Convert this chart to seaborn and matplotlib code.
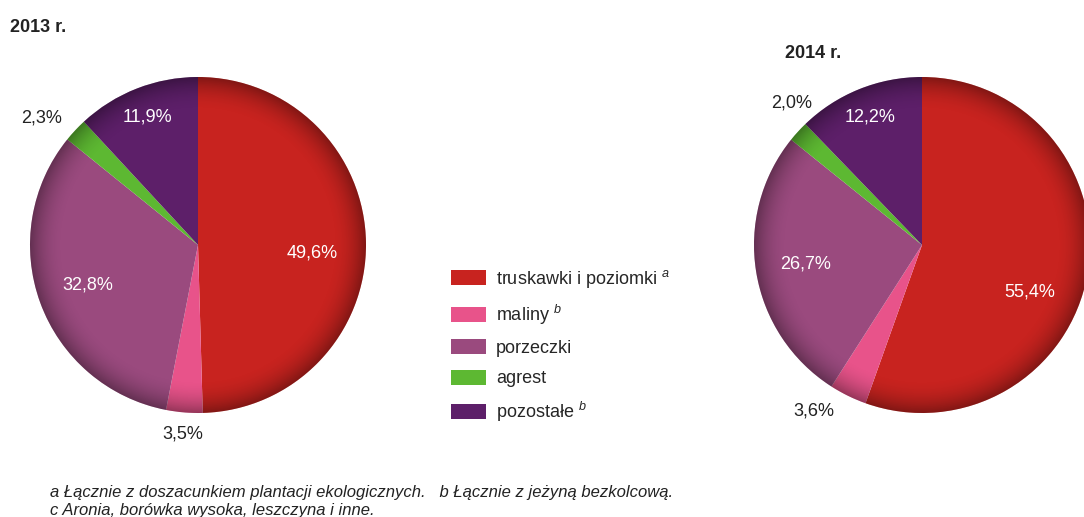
import numpy as np
import matplotlib
matplotlib.use("Agg")
import matplotlib.pyplot as plt
from matplotlib.patches import Patch, Circle
import seaborn as sns

# dane
kategorie = ["truskawki i poziomki", "maliny", "porzeczki", "agrest", "pozostałe"]
etykiety_legendy = [
    r"truskawki i poziomki $^{a}$",
    r"maliny $^{b}$",
    "porzeczki",
    "agrest",
    r"pozostałe $^{b}$",
]
udzialy_2013 = [49.6, 3.5, 32.8, 2.3, 11.9]
udzialy_2014 = [55.4, 3.6, 26.7, 2.0, 12.2]
lata = ["2013 r.", "2014 r."]
przypisy = [
    "a Łącznie z doszacunkiem plantacji ekologicznych.   b Łącznie z jeżyną bezkolcową.",
    "c Aronia, borówka wysoka, leszczyna i inne.",
]

sns.set_theme(style="white")
plt.rcParams["font.family"] = ["Liberation Sans", "DejaVu Sans"]
plt.rcParams["mathtext.fontset"] = "custom"
plt.rcParams["mathtext.it"] = "Liberation Sans:italic"
plt.rcParams["mathtext.rm"] = "Liberation Sans"

kolory = sns.color_palette(["#c8231f", "#e8538a", "#9a4a7e", "#5db832", "#5d1f69"])

# odleglosc etykiety od srodka i kolor tekstu dla kazdego wycinka
odl_etykiet = [0.68, 1.13, 0.70, 1.20, 0.82]
kolor_tekstu = ["white", "#222222", "white", "#222222", "white"]

fig = plt.figure(figsize=(10.84, 5.17), dpi=100)
fig.patch.set_facecolor("white")

W, H = 1084, 517
R = 168
FS = 13


def rysuj_kolo(cx, cy, wartosci, korekta_kata, odl):
    ax = fig.add_axes([(cx - R) / W, (H - cy - R) / H, 2 * R / W, 2 * R / H])
    wedges, _ = ax.pie(
        wartosci,
        colors=kolory,
        startangle=90,
        counterclock=False,
        radius=1,
        wedgeprops=dict(linewidth=0),
    )
    # cieniowanie krawedzi kola
    n = 400
    xx, yy = np.meshgrid(np.linspace(-1, 1, n), np.linspace(-1, 1, n))
    rr = np.sqrt(xx ** 2 + yy ** 2)
    alfa = np.clip((rr - 0.8) / 0.2, 0, 1) ** 2 * 0.35
    img = np.zeros((n, n, 4))
    img[..., 3] = alfa
    im = ax.imshow(img, extent=[-1, 1, -1, 1], origin="lower", zorder=3)
    im.set_clip_path(Circle((0, 0), 1, transform=ax.transData))
    # etykiety procentowe
    for w, v, d, c, dk in zip(wedges, wartosci, odl, kolor_tekstu, korekta_kata):
        kat = np.deg2rad((w.theta1 + w.theta2) / 2 + dk)
        ax.text(
            d * np.cos(kat), d * np.sin(kat),
            f"{v:.1f}%".replace(".", ","),
            ha="center", va="center", color=c, fontsize=FS, zorder=4,
        )
    ax.set_xlim(-1, 1)
    ax.set_ylim(-1, 1)
    ax.set_aspect("equal")
    ax.axis("off")
    return ax


rysuj_kolo(198, 245, udzialy_2013, [-5, 0, 0, 4, 0], odl_etykiet)
rysuj_kolo(922, 245, udzialy_2014, [-14, -7, 0, -5, 0],
           [0.70, 1.18, 0.70, 1.15, 0.82])

fig.text(10 / W, 1 - 28 / H, lata[0], fontsize=FS, fontweight="bold",
         color="#222222", va="center")
fig.text(785 / W, 1 - 53 / H, lata[1], fontsize=FS, fontweight="bold",
         color="#222222", va="center")

uchwyty = [Patch(facecolor=k, edgecolor="none") for k in kolory]
fig.legend(
    uchwyty, etykiety_legendy,
    loc="upper left", bbox_to_anchor=(451 / W, 1 - 268 / H),
    frameon=False, fontsize=FS, handlelength=1.95, handleheight=0.9,
    handletextpad=0.55, labelspacing=0.7, borderpad=0, borderaxespad=0,
)

fig.text(50 / W, 1 - 493 / H, przypisy[0], fontsize=12, style="italic",
         color="#222222", va="center")
fig.text(50 / W, 1 - 510 / H, przypisy[1], fontsize=12, style="italic",
         color="#222222", va="center")

fig.savefig("out.png", dpi=100, facecolor="white")
